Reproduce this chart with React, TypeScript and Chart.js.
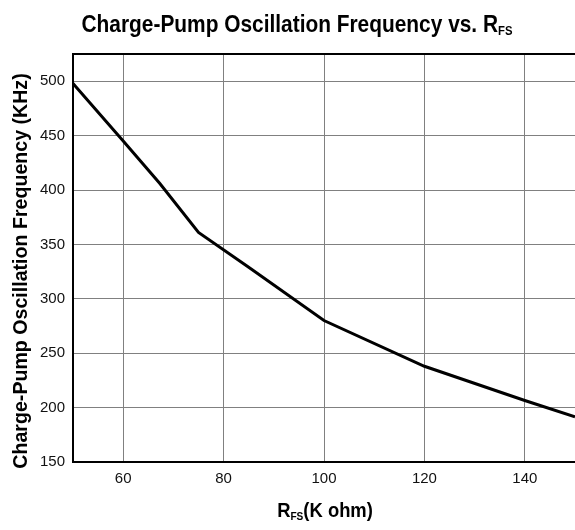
import React, { useEffect, useRef } from "react";
import { Chart, registerables } from "chart.js";

Chart.register(...registerables);

const rfsValues = [50, 60, 67.3, 75, 85, 100, 120, 140, 150];
const freqValues = [498, 445, 406, 361, 329, 280, 238, 206.5, 191.5];
const xTickValues = [60, 80, 100, 120, 140];
const yTickValues = [150, 200, 250, 300, 350, 400, 450, 500];

const FONT = "'Liberation Sans', Arial, sans-serif";

function drawSub(ctx: CanvasRenderingContext2D, main: string, sub: string, tail: string, cx: number, base: number, size: number, subSize: number, sx: number) {
  ctx.save();
  ctx.font = `bold ${size}px ${FONT}`;
  const wMain = ctx.measureText(main).width;
  const wTail = ctx.measureText(tail).width;
  ctx.font = `bold ${subSize}px ${FONT}`;
  const wSub = ctx.measureText(sub).width;
  const total = (wMain + wSub + wTail) * sx;
  ctx.translate(cx - total / 2, base);
  ctx.scale(sx, 1);
  ctx.fillStyle = "#000";
  ctx.textBaseline = "alphabetic";
  ctx.textAlign = "left";
  ctx.font = `bold ${size}px ${FONT}`;
  ctx.fillText(main, 0, 0);
  ctx.font = `bold ${subSize}px ${FONT}`;
  ctx.fillText(sub, wMain, size * 0.14);
  ctx.font = `bold ${size}px ${FONT}`;
  ctx.fillText(tail, wMain + wSub, 0);
  ctx.restore();
}

const textPlugin = {
  id: "texts",
  afterDraw(chart: any) {
    const ctx = chart.ctx as CanvasRenderingContext2D;
    const a = chart.chartArea;
    ctx.save();
    ctx.strokeStyle = "#000";
    ctx.lineWidth = 2;
    ctx.beginPath();
    ctx.moveTo(a.left - 1, a.top);
    ctx.lineTo(a.right, a.top);
    ctx.stroke();
    ctx.restore();
    drawSub(ctx, "Charge-Pump Oscillation Frequency vs. R", "FS", "", 297, 32, 24, 13, 0.87);
    drawSub(ctx, "R", "FS", "(K ohm)", 325, 517, 20, 11, 0.92);
    ctx.save();
    ctx.translate(27, 271);
    ctx.rotate(-Math.PI / 2);
    drawSub(ctx, "Charge-Pump Oscillation Frequency (KHz)", "", "", 0, 0, 20, 11, 0.98);
    ctx.restore();
  },
};

export default function App() {
  const ref = useRef<HTMLCanvasElement | null>(null);
  useEffect(() => {
    document.body.style.margin = "0";
    const canvas = ref.current!;
    const chart = new Chart(canvas, {
      type: "line",
      data: {
        datasets: [
          {
            data: rfsValues.map((x, i) => ({ x, y: freqValues[i] })),
            borderColor: "#000",
            borderWidth: 3,
            pointRadius: 0,
            tension: 0,
            fill: false,
          },
        ],
      },
      options: {
        animation: false,
        responsive: false,
        devicePixelRatio: 1,
        layout: { padding: { top: 54, right: 0, left: 0, bottom: 0 } },
        plugins: { legend: { display: false }, tooltip: { enabled: false }, title: { display: false } },
        scales: {
          x: {
            type: "linear",
            min: 50,
            max: 150,
            afterBuildTicks: (s: any) => {
              s.ticks = xTickValues.map((v) => ({ value: v }));
            },
            afterFit: (s: any) => {
              s.height = 68;
            },
            grid: { color: "#808080", lineWidth: 1, drawTicks: false },
            border: { color: "#000", width: 2 },
            ticks: { color: "#111", font: { family: FONT, size: 15 }, padding: 8 },
          },
          y: {
            type: "linear",
            min: 150,
            max: 525,
            afterBuildTicks: (s: any) => {
              s.ticks = yTickValues.map((v) => ({ value: v }));
            },
            afterFit: (s: any) => {
              s.width = 73;
            },
            grid: { color: "#808080", lineWidth: 1, drawTicks: false },
            border: { color: "#000", width: 2 },
            ticks: { color: "#111", font: { family: FONT, size: 15 }, padding: 8 },
          },
        },
      },
      plugins: [textPlugin],
    });
    return () => chart.destroy();
  }, []);
  return <canvas ref={ref} width={575} height={530} style={{ display: "block" }} />;
}
